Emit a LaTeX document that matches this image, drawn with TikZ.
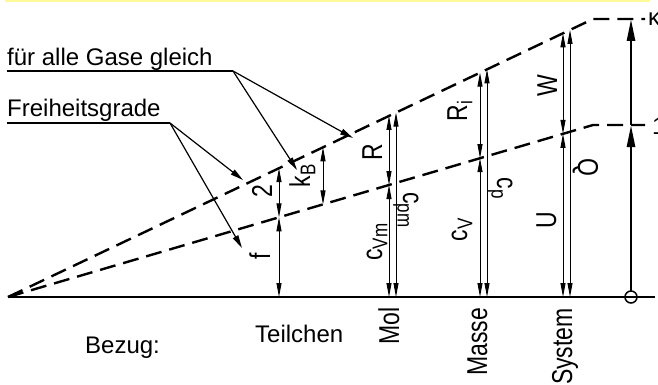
\documentclass[tikz,border=0pt]{standalone}
\usepackage{fontspec}
\setmainfont{Liberation Sans}
\usetikzlibrary{arrows.meta}

\newcommand{\ix}[1]{\raisebox{-0.35ex}{\fontsize{17}{19}\selectfont #1}}

\tikzset{
  dimline/.style={line width=0.9pt, {Triangle[length=14pt,width=5pt]}-{Triangle[length=14pt,width=5pt]}},
  slope/.style={line width=2.4pt, dash pattern=on 16pt off 8pt},
  pointer/.style={line width=1.2pt, -{Triangle[length=13pt,width=6pt]}},
  under/.style={line width=2pt},
  lbl/.style={inner sep=0pt, font=\fontsize{24}{28}\selectfont},
  up/.style={inner sep=0pt, font=\fontsize{23}{26}\selectfont, xscale=1.25, rotate=90},
  down/.style={inner sep=0pt, font=\fontsize{23}{26}\selectfont, xscale=1.25, rotate=-90},
}

\begin{document}
\begin{tikzpicture}[x=1pt,y=-1pt]
\useasboundingbox (0,0) rectangle (658,385);

% Band
\fill[yellow!40] (5,0) rectangle (650,2.5);

% Base line
\coordinate (O) at (8,297);
\coordinate (E) at (655,297);
\draw[line width=2.4pt] (O) -- (E);

% Slopes
\coordinate (KU) at (593,19);
\coordinate (KL) at (593,125);
\coordinate (EU) at (645,19);
\coordinate (EL) at (645,125);
\draw[slope] (O) -- (KU) -- (EU);
\draw[slope] (O) -- (KL) -- (EL);

% Teilchen
\coordinate (T0) at (279,297);
\coordinate (T1) at (279,217.3);
\coordinate (T2) at (279,168.2);
\draw[dimline] (T0) -- (T1);
\draw[dimline] (T1) -- (T2);
\node[up, anchor=base] (f) at (270,256) {f};
\node[up, anchor=base] (zwei) at (272,191) {2};

% Boltzmann
\coordinate (B1) at (323,204.4);
\coordinate (B2) at (323,147.3);
\draw[dimline] (B1) -- (B2);
\node[up, anchor=base] (kB) at (310,176) {k\ix{B}};

% Mol
\coordinate (M0) at (389,297);
\coordinate (M1) at (389,185);
\coordinate (M2) at (389,115.9);
\coordinate (N0) at (396,297);
\coordinate (N2) at (396,112.6);
\draw[dimline] (M0) -- (M1);
\draw[dimline] (M1) -- (M2);
\draw[dimline] (N0) -- (N2);
\node[up, anchor=base] (R) at (382,152) {R};
\node[up, anchor=base] (cVm) at (382,242) {c\ix{Vm}};
\node[down, anchor=base] (cpm) at (403,210) {c\ix{pm}};

% Masse
\coordinate (S0) at (480,297);
\coordinate (S1) at (480,158.2);
\coordinate (S2) at (480,72.7);
\coordinate (P0) at (487,297);
\coordinate (P2) at (487,69.4);
\draw[dimline] (S0) -- (S1);
\draw[dimline] (S1) -- (S2);
\draw[dimline] (P0) -- (P2);
\node[up, anchor=base] (Ri) at (467,111) {R\ix{i}};
\node[up, anchor=base] (cV) at (467,230) {c\ix{V}};
\node[down, anchor=base] (cp) at (497,188) {c\ix{p}};

% System
\coordinate (U0) at (563,297);
\coordinate (U1) at (563,133.8);
\coordinate (U2) at (563,33.3);
\coordinate (Q0) at (570,297);
\coordinate (Q2) at (570,29.9);
\draw[dimline] (U0) -- (U1);
\draw[dimline] (U1) -- (U2);
\draw[dimline] (Q0) -- (Q2);
\node[up, anchor=base] (U) at (556,220) {U};
\node[up, anchor=base] (W) at (557,86) {W};
\node[down, anchor=base] (Q) at (578,167) {Q};

% Scale on the right
\coordinate (C) at (631,297);
\coordinate (C0) at (631,291);
\coordinate (C1) at (631,125);
\coordinate (C2) at (631,19);
\draw[line width=1.5pt] (C) circle (6);
\draw[line width=2.6pt, -{Triangle[length=22pt,width=8pt]}] (C0) -- (C1);
\draw[line width=2.6pt, -{Triangle[length=22pt,width=8pt]}] (C1) -- (C2);
\node[lbl, anchor=base west] (kappa) at (648,26) {κ};
\node[lbl, anchor=base west] (eins) at (652,135) {1};

% Notes
\node[lbl, anchor=base west] (gase) at (7,66) {für alle Gase gleich};
\coordinate (G0) at (7,71);
\coordinate (G1) at (233,71);
\coordinate (G2) at (353,138);
\coordinate (G3) at (297,170);
\draw[under] (G0) -- (G1);
\draw[pointer] (G1) -- (G2);
\draw[pointer] (G1) -- (G3);

\node[lbl, anchor=base west] (frei) at (7,117) {Freiheitsgrade};
\coordinate (F0) at (7,123);
\coordinate (F1) at (170,123);
\coordinate (F2) at (243,180);
\coordinate (F3) at (242,248);
\draw[under] (F0) -- (F1);
\draw[pointer] (F1) -- (F2);
\draw[pointer] (F1) -- (F3);

% Bezug
\node[lbl, anchor=base west] (bezug) at (85,353) {Bezug:};
\node[lbl, anchor=base west] (teil) at (255,342) {Teilchen};
\node[up, anchor=base east] (mol) at (399,307) {Mol};
\node[up, anchor=base east] (masse) at (487,308) {Masse};
\node[up, anchor=base east] (system) at (572,308) {System};

\end{tikzpicture}
\end{document}
